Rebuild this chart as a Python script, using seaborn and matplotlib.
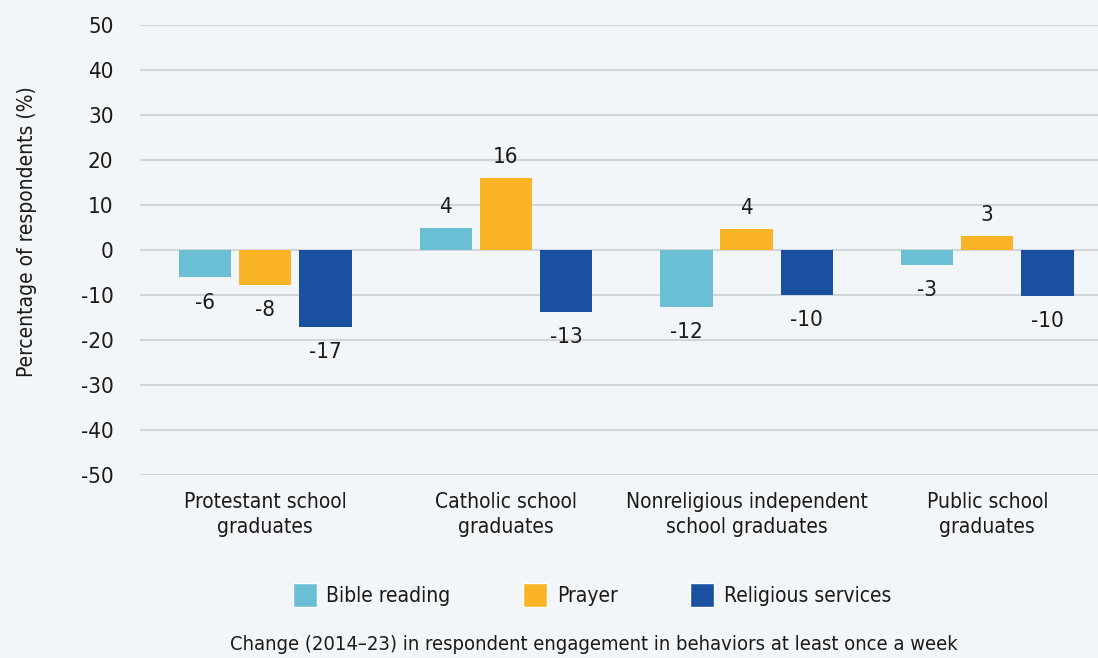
import matplotlib
matplotlib.use('Agg')
import matplotlib.pyplot as plt
from matplotlib.patches import Patch
import pandas as pd
import seaborn as sns

schools = ["Protestant school\ngraduates", "Catholic school\ngraduates",
           "Nonreligious independent\nschool graduates", "Public school\ngraduates"]
behaviors = ["Bible reading", "Prayer", "Religious services"]

# bar heights, labels as printed on the chart
bible = [-6.1, 4.9, -12.6, -3.3]
prayer = [-7.8, 16.0, 4.7, 3.1]
services = [-17.0, -13.8, -10.0, -10.2]
bible_labels = ["-6", "4", "-12", "-3"]
prayer_labels = ["-8", "16", "4", "3"]
services_labels = ["-17", "-13", "-10", "-10"]

colors = ["#6bbfd5", "#fcb427", "#1a50a0"]
bg = "#f2f6f9"
ink = "#1a1a1a"


def get_data():
    rows = []
    for name, vals in zip(behaviors, [bible, prayer, services]):
        for school, v in zip(schools, vals):
            rows.append({"school": school, "behavior": name, "value": v})
    return pd.DataFrame(rows)


def graph_plot():
    data = get_data()

    sns.set_style("white")
    plt.rcParams['font.family'] = ['DejaVu Sans']
    plt.rcParams['font.stretch'] = 'condensed'
    plt.rcParams['axes.unicode_minus'] = False

    fig = plt.figure(figsize=(10.98, 6.58), dpi=100, facecolor=bg)
    ax = fig.add_axes([140 / 1098, 1 - 475 / 658, 958 / 1098, 450 / 658])
    ax.set_facecolor(bg)

    sns.barplot(data=data, x="school", y="value", hue="behavior",
                hue_order=behaviors, palette=colors, saturation=1,
                width=0.75, gap=0.13, legend=False, ax=ax, zorder=3,
                linewidth=0)

    # positive labels above bars, negative labels a bit further below
    for cont, labels in zip(ax.containers, [bible_labels, prayer_labels, services_labels]):
        pos = [l if not l.startswith("-") else "" for l in labels]
        neg = [l if l.startswith("-") else "" for l in labels]
        ax.bar_label(cont, labels=pos, padding=8, fontsize=16, color=ink)
        ax.bar_label(cont, labels=neg, padding=11, fontsize=16, color=ink)

    ax.set_ylim(-50, 50)
    ax.set_yticks(range(-50, 51, 10))
    ax.set_xlim(-0.52, 3.46)
    ax.yaxis.grid(True, color="#d3d6d9", linewidth=1.5, zorder=0)
    ax.set_axisbelow(True)
    for s in ax.spines.values():
        s.set_visible(False)
    ax.tick_params(axis="y", length=0, labelsize=16, colors=ink, pad=19)
    ax.tick_params(axis="x", length=0, labelsize=15, colors=ink, pad=12)
    for t in ax.get_xticklabels():
        t.set_linespacing(1.35)
    ax.set_xlabel("")
    ax.set_ylabel("")

    fig.text(27 / 1098, 1 - 232 / 658, "Percentage of respondents (%)", rotation=90,
             ha="center", va="center", fontsize=15, color=ink)

    handles = [Patch(facecolor=c, label=b) for c, b in zip(colors, behaviors)]
    fig.legend(handles=handles, loc="center", bbox_to_anchor=(592 / 1098, 1 - 595 / 658),
               ncol=3, frameon=False, fontsize=15, handlelength=1.15, handleheight=1.35,
               columnspacing=3.5, handletextpad=0.45, labelcolor=ink)

    fig.text(594 / 1098, 1 - 645 / 658,
             "Change (2014\u201323) in respondent engagement in behaviors at least once a week",
             ha="center", va="center", fontsize=14.5, color=ink)

    plt.savefig("out.png", dpi=100, facecolor=bg)


if __name__ == '__main__':
    graph_plot()
